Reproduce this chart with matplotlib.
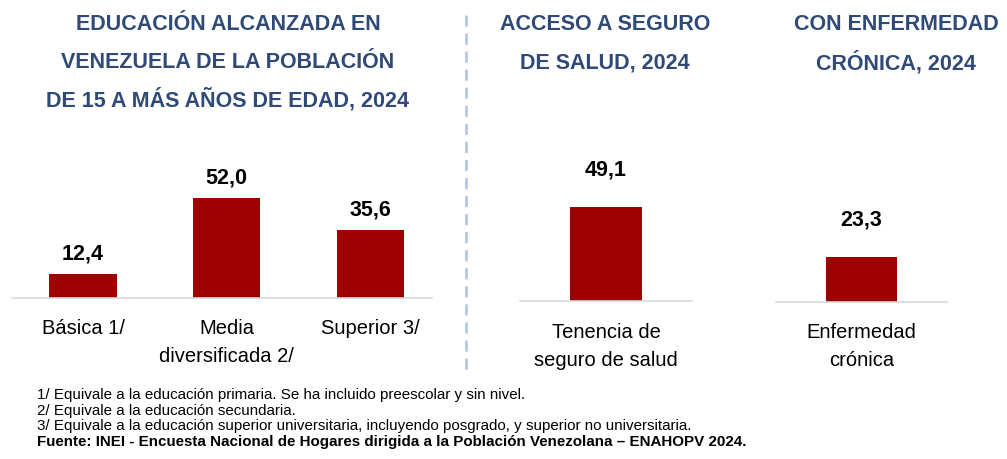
import matplotlib
matplotlib.use('Agg')
import matplotlib.pyplot as plt
from matplotlib.transforms import blended_transform_factory

matplotlib.rc('font', family=['Liberation Sans', 'DejaVu Sans'])

# data
edu_cats = ['Básica 1/', 'Media\ndiversificada 2/', 'Superior 3/']
edu_vals = [12.4, 52.0, 35.6]
seg_cats = ['Tenencia de\nseguro de salud']
seg_vals = [49.1]
enf_cats = ['Enfermedad\ncrónica']
enf_vals = [23.3]

titles = ['EDUCACIÓN ALCANZADA EN\nVENEZUELA DE LA POBLACIÓN\nDE 15 A MÁS AÑOS DE EDAD, 2024',
          'ACCESO A SEGURO\nDE SALUD, 2024',
          'CON ENFERMEDAD\nCRÓNICA, 2024']
notes = ['1/ Equivale a la educación primaria. Se ha incluido preescolar y sin nivel.',
         '2/ Equivale a la educación secundaria.',
         '3/ Equivale a la educación superior universitaria, incluyendo posgrado, y superior no universitaria.']
source = 'Fuente: INEI - Encuesta Nacional de Hogares dirigida a la Población Venezolana – ENAHOPV 2024.'

W, H = 1007, 459
fig = plt.figure(figsize=(W / 100, H / 100), dpi=100)

BAR = '#9E0000'
TITLE = '#2F4A78'
YMAX = 60
PXU = 1.92  # pixels per unit


def panel(x0, x1, base, cats, vals, width, xlim, lab_off):
    h = YMAX * PXU
    ax = fig.add_axes([x0 / W, 1 - base / H, (x1 - x0) / W, h / H])
    xs = list(range(len(vals)))
    ax.bar(xs, vals, width=width, color=BAR)
    for x, v in zip(xs, vals):
        ax.annotate(f'{v:.1f}'.replace('.', ','), (x, v), xytext=(0, lab_off),
                    textcoords='offset pixels', ha='center', va='center',
                    fontsize=15.5, fontweight='bold', color='black')
    ax.set_xlim(*xlim)
    ax.set_ylim(0, YMAX)
    ax.set_xticks([])
    ax.set_yticks([])
    # category labels, one text per line
    tr = blended_transform_factory(ax.transData, fig.transFigure)
    for x, c in zip(xs, cats):
        for j, line in enumerate(c.split('\n')):
            ax.text(x, 1 - (base + 31 + j * 28) / H, line, transform=tr,
                    ha='center', va='center', fontsize=14.5, color='black')
    for s in ['top', 'left', 'right']:
        ax.spines[s].set_visible(False)
    ax.spines['bottom'].set_color('#D9D9D9')
    ax.spines['bottom'].set_linewidth(1.2)
    ax.patch.set_alpha(0)
    return ax


panel(12, 432, 298, edu_cats, edu_vals, 0.47, (-0.495, 2.43), 20)
panel(520, 692, 301, seg_cats, seg_vals, 0.42, (-0.5, 0.5), 37)
panel(776, 947, 302, enf_cats, enf_vals, 0.42, (-0.5, 0.5), 37)

# titles, one text per line
for cx, t in zip([228, 605, 896], titles):
    for j, line in enumerate(t.split('\n')):
        fig.text(cx / W, 1 - (25 + j * 37.5) / H, line, ha='center', va='center',
                 fontsize=15.5, fontweight='bold', color=TITLE)

# dashed divider
fig.add_artist(plt.Line2D([466 / W, 466 / W], [1 - 15 / H, 1 - 372 / H],
                          color='#B4C7E7', lw=2, ls=(0, (4, 2.5))))

# footnotes
for i, n in enumerate(notes):
    fig.text(37 / W, 1 - (395 + i * 15.7) / H, n, ha='left', va='center', fontsize=10.9)
fig.text(37 / W, 1 - 442 / H, source, ha='left', va='center', fontsize=10.9, fontweight='bold')

fig.savefig('out.png', dpi=100)
